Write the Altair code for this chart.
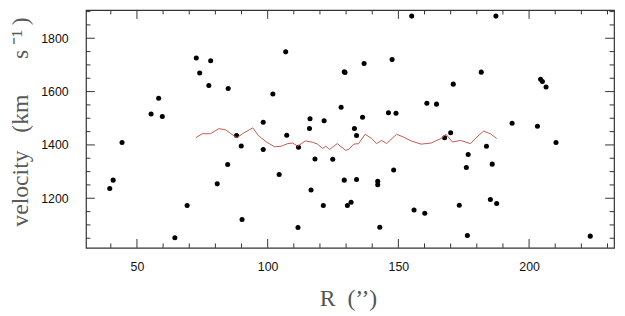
import altair as alt
import pandas as pd

# scatter data: R (arcsec) and velocity (km/s)
r_vals = [39.6, 40.9, 44.3, 55.4, 58.3, 59.7, 64.5, 69.2, 72.7, 74.0,
          77.5, 78.2, 80.7, 84.9, 84.7, 88.1, 89.9, 90.2, 98.3, 98.3,
          102.0, 104.4, 106.9, 107.3, 111.8, 111.6, 116.2, 116.0, 116.6, 118.1,
          121.6, 121.3, 124.9, 128.1, 129.3, 129.6, 129.3, 130.5, 131.9, 133.2,
          134.0, 134.0, 136.3, 136.9, 142.1, 142.1, 142.9, 146.2, 147.6, 148.2,
          149.1, 155.1, 156.0, 160.1, 160.9, 164.6, 167.7, 170.0, 171.0, 173.3,
          176.0, 176.7, 176.4, 181.7, 183.7, 185.2, 185.9, 187.3, 187.6, 193.5,
          203.2, 204.4, 205.1, 206.5, 210.3, 223.4]
v_vals = [1237, 1268, 1409, 1516, 1575, 1507, 1052, 1173, 1726, 1670,
          1623, 1716, 1254, 1612, 1327, 1435, 1396, 1120, 1485, 1383,
          1591, 1289, 1749, 1436, 1391, 1090, 1498, 1462, 1231, 1347,
          1491, 1173, 1346, 1541, 1674, 1672, 1268, 1173, 1185, 1462,
          1435, 1270, 1504, 1705, 1264, 1251, 1091, 1521, 1720, 1306,
          1519, 1883, 1156, 1144, 1556, 1553, 1427, 1446, 1628, 1174,
          1315, 1364, 1060, 1673, 1395, 1195, 1328, 1883, 1180, 1481,
          1470, 1646, 1638, 1617, 1409, 1058]

# running mean line
line_r = [72.5, 75.0, 78.1, 81.3, 83.8, 85.7, 88.2, 90.7, 94.3, 96.4,
          99.5, 102.7, 105.2, 107.7, 109.6, 111.5, 114.4, 117.2, 119.1, 121.0,
          122.2, 123.7, 125.3, 126.6, 129.8, 131.0, 132.9, 134.8, 137.3, 139.8,
          141.7, 143.6, 145.5, 149.3, 151.8, 154.9, 158.7, 162.5, 166.3, 168.2,
          170.7, 173.8, 177.6, 180.1, 182.6, 185.2, 187.6]
line_v = [1427, 1442, 1442, 1461, 1457, 1444, 1427, 1444, 1464, 1436,
          1411, 1393, 1395, 1405, 1407, 1395, 1415, 1410, 1403, 1387,
          1395, 1383, 1395, 1405, 1380, 1383, 1403, 1405, 1440, 1424,
          1405, 1417, 1405, 1440, 1430, 1415, 1403, 1407, 1424, 1440,
          1411, 1417, 1405, 1430, 1452, 1442, 1424]

x_major = [50, 100, 150, 200]
x_minor = [40, 60, 70, 80, 90, 110, 120, 130, 140, 160, 170, 180, 190, 210, 220, 230]
y_major = [1200, 1400, 1600, 1800]
y_minor = [1050, 1100, 1150, 1250, 1300, 1350, 1450, 1500, 1550, 1650, 1700, 1750, 1850, 1900]

W, H = 535, 241
xs = alt.Scale(domain=[30.5, 232.5], nice=False, zero=False)
ys = alt.Scale(domain=[1014, 1906], nice=False, zero=False)

xaxis = alt.Axis(
    values=x_major, format="d", title="R\u00a0\u00a0(\u2019\u2019)", grid=False, domain=False,
    tickSize=0, labelPadding=13, labelFont="Liberation Sans", labelFontSize=12.5,
    labelColor="#111", titleFont="Liberation Serif", titleFontSize=24,
    titleFontWeight="normal", titleColor="#555", titleX=W / 2 - 2, titleY=58,
    titleBaseline="alphabetic")
yaxis = alt.Axis(
    values=y_major, format="d",
    title="velocity\u00a0\u00a0\u00a0(km\u00a0\u00a0\u00a0\u00a0\u00a0\u00a0s\u2009\u207b\u00b9\u2009)",
    grid=False, domain=False, tickSize=0, labelPadding=18,
    labelFont="Liberation Sans", labelFontSize=12.5, labelColor="#111",
    titleFont="Liberation Serif", titleFontSize=24, titleFontWeight="normal",
    titleColor="#5a5a5a", titleX=-59, titleY=113, titleBaseline="alphabetic",
    titleAngle=270)

pts_df = pd.DataFrame({"r": r_vals, "v": v_vals})
line_df = pd.DataFrame({"r": line_r, "v": line_v})

points = alt.Chart(pts_df).mark_circle(size=26, color="black", opacity=1).encode(
    x=alt.X("r:Q", scale=xs, axis=xaxis),
    y=alt.Y("v:Q", scale=ys, axis=yaxis),
)

line = alt.Chart(line_df).mark_line(color="#c0594f", strokeWidth=1).encode(
    x=alt.X("r:Q", scale=xs, axis=xaxis),
    y=alt.Y("v:Q", scale=ys, axis=yaxis),
)

def xticks(vals, length):
    df = pd.DataFrame({"r": vals})
    bottom = alt.Chart(df).mark_rule(color="#333", strokeWidth=1).encode(
        x=alt.X("r:Q", scale=xs, axis=xaxis), y=alt.value(H), y2=alt.value(H - length))
    top = alt.Chart(df).mark_rule(color="#333", strokeWidth=1).encode(
        x=alt.X("r:Q", scale=xs, axis=xaxis), y=alt.value(0), y2=alt.value(length))
    return [bottom, top]

def yticks(vals, length):
    df = pd.DataFrame({"v": vals})
    left = alt.Chart(df).mark_rule(color="#333", strokeWidth=1).encode(
        y=alt.Y("v:Q", scale=ys, axis=yaxis), x=alt.value(0), x2=alt.value(length))
    right = alt.Chart(df).mark_rule(color="#333", strokeWidth=1).encode(
        y=alt.Y("v:Q", scale=ys, axis=yaxis), x=alt.value(W), x2=alt.value(W - length))
    return [left, right]

layers = [points, line] + xticks(x_major, 9) + xticks(x_minor, 4.5) + yticks(y_major, 9) + yticks(y_minor, 4.5)

chart = alt.layer(*layers).properties(
    width=W, height=H,
    padding={"left": 79, "top": 0, "right": 3, "bottom": 66},
    autosize=alt.AutoSizeParams(type="none"),
).configure_view(stroke="#333", strokeWidth=1.2)

chart.save("out.html", embed_options={"renderer": "svg", "actions": False})
